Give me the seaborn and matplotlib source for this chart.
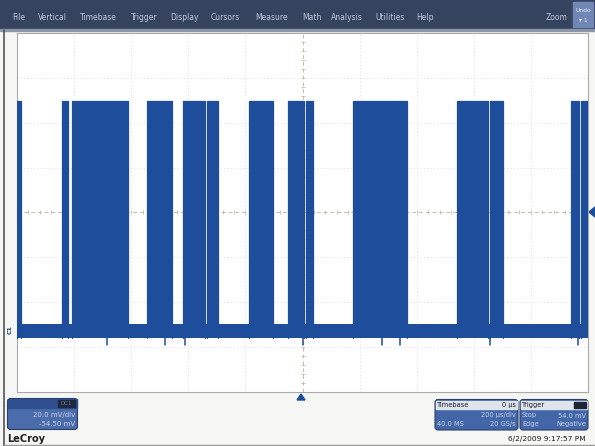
import numpy as np
import pandas as pd
import matplotlib
matplotlib.use("Agg")
import matplotlib.pyplot as plt
import seaborn as sns
from matplotlib.patches import Rectangle, FancyBboxPatch, Polygon

# ---- acquisition settings -------------------------------------------------
time_per_div_us = 200
volts_per_div_mv = 20.0
offset_mv = -54.50
trigger_level_mv = 54.0
h_divs, v_divs = 10, 8

# ---- captured trace: burst intervals (µs, relative to trigger) -----------
burst_start_us = [-1000, -842, -807, -545, -419, -334, -187, -51, 12, 177, 541, 657, 940, 975]
burst_end_us = [-986, -821, -611, -457, -341, -296, -103, 5, 37, 366, 650, 702, 968, 1000]
high_level_mv = 104.0
low_band_top_mv = 5.0
low_band_bottom_mv = -1.5
glitch_us = [-685, -482, -412, 2, 278, 341, 657, 965]
glitch_depth_mv = -4.6

# ---- UI text ---------------------------------------------------------------
menu_items = ["File", "Vertical", "Timebase", "Trigger", "Display", "Cursors",
              "Measure", "Math", "Analysis", "Utilities", "Help"]
channel_lines = ["20.0 mV/div", "-54.50 mV"]
timebase_lines = [("", "200 µs/div"), ("40.0 MS", "20 GS/s")]
trigger_lines = [("Stop", "54.0 mV"), ("Edge", "Negative")]
timestamp = "6/2/2009 9:17:57 PM"

W, H = 595, 446
TRACE = "#1d4d9b"

sns.set_theme(style="white")
plt.rcParams["font.family"] = ["DejaVu Sans"]

fig = plt.figure(figsize=(W / 100, H / 100), dpi=100)
fig.patch.set_facecolor("#f6f6f4")

# overlay in pixel coordinates for the instrument chrome
ui = fig.add_axes([0, 0, 1, 1], zorder=0)
ui.set_xlim(0, W)
ui.set_ylim(H, 0)
ui.axis("off")

# ---- graticule axes --------------------------------------------------------
gx0, gx1, gy0, gy1 = 17, 588, 33, 392
ax = fig.add_axes([gx0 / W, 1 - gy1 / H, (gx1 - gx0) / W, (gy1 - gy0) / H], zorder=2)
ax.set_facecolor("white")
half_t = time_per_div_us * h_divs / 2
center_v = -offset_mv
half_v = volts_per_div_mv * v_divs / 2
ax.set_xlim(-half_t, half_t)
ax.set_ylim(center_v - half_v, center_v + half_v)

xt = np.arange(-half_t, half_t + 1, time_per_div_us)
yt = center_v + volts_per_div_mv * np.arange(-v_divs // 2, v_divs // 2 + 1)
for x in xt[1:-1]:
    if x == 0:
        continue
    ax.axvline(x, color="#d6d0c6", lw=0.6, ls=(0, (1, 3)), zorder=1)
for y in yt[1:-1]:
    if np.isclose(y, center_v):
        continue
    ax.axhline(y, color="#d6d0c6", lw=0.6, ls=(0, (1, 3)), zorder=1)
ax.axvline(0, color="#c9bca8", lw=0.7, ls=(0, (4, 3)), zorder=1)
ax.axhline(center_v, color="#c9bca8", lw=0.7, ls=(0, (4, 3)), zorder=1)
minor_x = np.arange(-half_t, half_t + 1, time_per_div_us / 5)
minor_y = center_v + volts_per_div_mv / 5 * np.arange(-v_divs * 5 // 2, v_divs * 5 // 2 + 1)
ax.plot(minor_x, np.full_like(minor_x, center_v), ls="none", marker="|",
        ms=3, mew=0.6, color="#c9bca8", zorder=1)
ax.plot(np.zeros_like(minor_y), minor_y, ls="none", marker="_",
        ms=3, mew=0.6, color="#c9bca8", zorder=1)
ax.set_xticks([])
ax.set_yticks([])
for s in ax.spines.values():
    s.set_color("#a9a9a9")
    s.set_linewidth(0.8)

# ---- trace: idle noise band, bursts and glitches ---------------------------
ax.fill_between([-half_t, half_t], low_band_bottom_mv, low_band_top_mv,
                color=TRACE, lw=0, zorder=3)
rows = []
for i, (s, e) in enumerate(zip(burst_start_us, burst_end_us)):
    ax.fill_between([s, e], low_band_bottom_mv, high_level_mv, color=TRACE, lw=0, zorder=3)
    for t, v in [(s, low_band_bottom_mv), (s, high_level_mv), (e, high_level_mv), (e, low_band_bottom_mv)]:
        rows.append({"burst": i, "t": t, "v": v})
edges = pd.DataFrame(rows)
sns.lineplot(data=edges, x="t", y="v", units="burst", estimator=None, sort=False,
             color=TRACE, lw=0.9, ax=ax, zorder=4, legend=False)
for g in glitch_us:
    ax.plot([g, g], [low_band_bottom_mv, glitch_depth_mv], color=TRACE, lw=1.1, zorder=4)
ax.set_xlabel("")
ax.set_ylabel("")

# ---- menu bar --------------------------------------------------------------
ui.add_patch(Rectangle((0, 0), W, 29, color="#36435e", zorder=1))
ui.add_patch(Rectangle((0, 29), W, 1.5, color="#8c96aa", zorder=1))
menu_x = [12, 38, 80, 131, 170, 211, 255, 302, 331, 375, 416]
for x, label in zip(menu_x, menu_items):
    ui.text(x, 17, label, color="#bfc9dc", fontsize=5.5, va="center", ha="left", zorder=2)
ui.text(546, 17, "Zoom", color="#bfc9dc", fontsize=5.5, va="center", ha="left", zorder=2)
ui.add_patch(Rectangle((573, 2), 20, 25, color="#6f86b6", zorder=2))
ui.text(583, 11, "Undo", color="#eef2fa", fontsize=4.3, va="center", ha="center", zorder=3)
ui.text(583, 20, "▾ 1", color="#eef2fa", fontsize=4.3, va="center", ha="center", zorder=3)

# left bezel line
ui.plot([3.5, 3.5], [30, H], color="#555555", lw=1.2, zorder=1)
ui.plot([3.5, W], [H - 1, H - 1], color="#9a9a9a", lw=1.0, zorder=1)

# channel marker and trigger markers
ui.text(10.5, 330, "C1", color="#1f3f7a", fontsize=4.5, rotation=90,
        va="center", ha="center", fontweight="bold", zorder=3)
ui.add_patch(Polygon([[595, 207], [595, 217], [589, 212]], color=TRACE, zorder=3))
ui.add_patch(Polygon([[297, 400], [305, 400], [301, 394]], color=TRACE, zorder=3))

# ---- channel descriptor box ----------------------------------------------
ui.add_patch(FancyBboxPatch((7.5, 398.5), 70, 31, boxstyle="round,pad=0,rounding_size=3",
                            fc="#4a6cab", ec="#2b3f66", lw=0.8, zorder=2))
ui.add_patch(Rectangle((8, 399), 69, 9, color="#2e508f", zorder=3))
ui.add_patch(Rectangle((58, 400), 17, 7, color="#1d2740", zorder=4))
ui.text(66.5, 403.5, "DC1", color="#6c7894", fontsize=4, ha="center", va="center", zorder=5)
for i, line in enumerate(channel_lines):
    ui.text(75, 415 + 9 * i, line, color="#c8d4ec", fontsize=5, ha="right", va="center", zorder=5)

# ---- timebase and trigger boxes ------------------------------------------
def info_box(x0, x1, title, right_title, lines, badge=False):
    ui.add_patch(FancyBboxPatch((x0, 399.5), x1 - x0, 30.5, boxstyle="round,pad=0,rounding_size=3",
                                fc="#4366a8", ec="#2b3f66", lw=0.8, zorder=2))
    ui.add_patch(Rectangle((x0 + 1, 400.5), x1 - x0 - 2, 8.5, color="#dfe3ea", zorder=3))
    ui.text(x0 + 2, 404.8, title, color="#1a1f2c", fontsize=4.8, ha="left", va="center", zorder=5)
    if badge:
        ui.add_patch(Rectangle((x1 - 14, 401.5), 12, 6.5, color="#1d2433", zorder=4))
    if right_title:
        ui.text(x1 - 2, 404.8, right_title, color="#1a1f2c", fontsize=4.8, ha="right", va="center", zorder=5)
    for i, (l, r) in enumerate(lines):
        y = 415.5 + 8.5 * i
        ui.text(x0 + 2, y, l, color="#c8d4ec", fontsize=4.8, ha="left", va="center", zorder=5)
        ui.text(x1 - 2, y, r, color="#c8d4ec", fontsize=4.8, ha="right", va="center", zorder=5)

info_box(435, 518, "Timebase", "0 µs", timebase_lines)
info_box(520, 588, "Trigger", "", trigger_lines, badge=True)

ui.text(586, 438.5, timestamp, color="#1a1a1a", fontsize=5.3, ha="right", va="center", zorder=3)
ui.text(7, 438.5, "LeCroy", color="#202020", fontsize=7, fontweight="bold",
        ha="left", va="center", zorder=3)

fig.savefig("out.png", dpi=100, facecolor=fig.get_facecolor())
